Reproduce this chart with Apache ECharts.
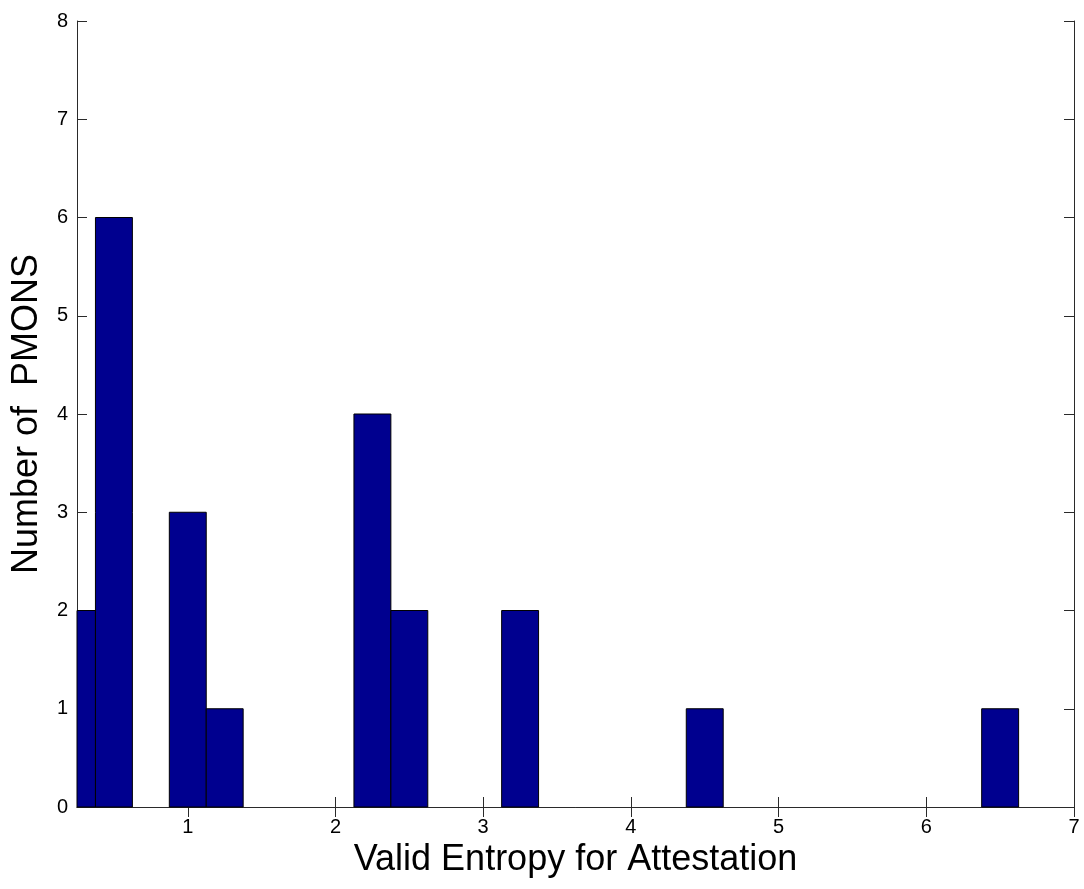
<!DOCTYPE html>
<html>
<head>
<meta charset="utf-8">
<script src="https://cdn.jsdelivr.net/npm/echarts@6/dist/echarts.min.js"></script>
<style>
html,body{margin:0;padding:0;background:#fff;}
#chart{width:1084px;height:889px;}
</style>
</head>
<body>
<div id="chart"></div>
<script>
// Histogram data (bin centres and counts)
const binCenters = [0.25, 0.5, 1.0, 1.25, 2.25, 2.5, 3.25, 4.5, 6.5];
const counts     = [2, 6, 3, 1, 4, 2, 2, 1, 1];
const binWidth = 0.25;
const xTicks = [1, 2, 3, 4, 5, 6, 7];
const yTicks = [0, 1, 2, 3, 4, 5, 6, 7, 8];
const xTitle = 'Valid Entropy for Attestation';
const yTitle = 'Number of  PMONS';
const X_MIN = 0.25, X_MAX = 7, Y_MIN = 0, Y_MAX = 8;

const FONT = '"Liberation Sans", Arial, Helvetica, sans-serif';
const AXIS_COLOR = '#2a2a2a';

const chart = echarts.init(document.getElementById('chart'), null, {renderer: 'canvas'});

function renderItem(params, api) {
  const c = api.value(0), n = api.value(1);
  const lo = Math.max(c - binWidth / 2, X_MIN);
  const hi = Math.min(c + binWidth / 2, X_MAX);
  const p0 = api.coord([lo, n]);
  const p1 = api.coord([hi, 0]);
  return {
    type: 'rect',
    shape: {x: p0[0], y: p0[1], width: p1[0] - p0[0], height: p1[1] - p0[1]},
    style: {fill: '#00008F', stroke: '#000000', lineWidth: 1}
  };
}

const commonLine = {show: true, lineStyle: {color: AXIS_COLOR, width: 1}};

chart.setOption({
  animation: false,
  backgroundColor: '#ffffff',
  grid: {left: 77, top: 21, right: 10, bottom: 82, containLabel: false},
  xAxis: [
    {
      type: 'value', position: 'bottom', min: X_MIN, max: X_MAX,
      axisLine: commonLine,
      axisTick: {show: true, inside: true, length: 10, customValues: xTicks, lineStyle: {color: AXIS_COLOR}},
      axisLabel: {show: true, customValues: xTicks, color: '#000', fontSize: 20, fontFamily: FONT, margin: 10},
      splitLine: {show: false},
      name: xTitle, nameLocation: 'middle', nameGap: 31,
      nameTextStyle: {color: '#000', fontSize: 36, fontFamily: FONT}
    },
    {
      type: 'value', position: 'top', min: X_MIN, max: X_MAX,
      axisLine: commonLine,
      axisTick: {show: true, inside: true, length: 10, customValues: xTicks, lineStyle: {color: AXIS_COLOR}},
      axisLabel: {show: false},
      splitLine: {show: false}
    }
  ],
  yAxis: [
    {
      type: 'value', position: 'left', min: Y_MIN, max: Y_MAX, interval: 1,
      axisLine: commonLine,
      axisTick: {show: true, inside: true, length: 10, lineStyle: {color: AXIS_COLOR}},
      axisLabel: {show: true, color: '#000', fontSize: 20, fontFamily: FONT, margin: 9,
                  formatter: v => (yTicks.indexOf(v) >= 0 ? String(v) : '')},
      splitLine: {show: false},
      name: yTitle, nameLocation: 'middle', nameGap: 32, nameRotate: 90,
      nameTextStyle: {color: '#000', fontSize: 36, fontFamily: FONT}
    },
    {
      type: 'value', position: 'right', min: Y_MIN, max: Y_MAX, interval: 1,
      axisLine: commonLine,
      axisTick: {show: true, inside: true, length: 10, lineStyle: {color: AXIS_COLOR}},
      axisLabel: {show: false},
      splitLine: {show: false}
    }
  ],
  series: [{
    type: 'custom',
    renderItem: renderItem,
    xAxisIndex: 0, yAxisIndex: 0,
    encode: {x: 0, y: 1},
    data: binCenters.map((c, i) => [c, counts[i]])
  }]
});
</script>
</body>
</html>
